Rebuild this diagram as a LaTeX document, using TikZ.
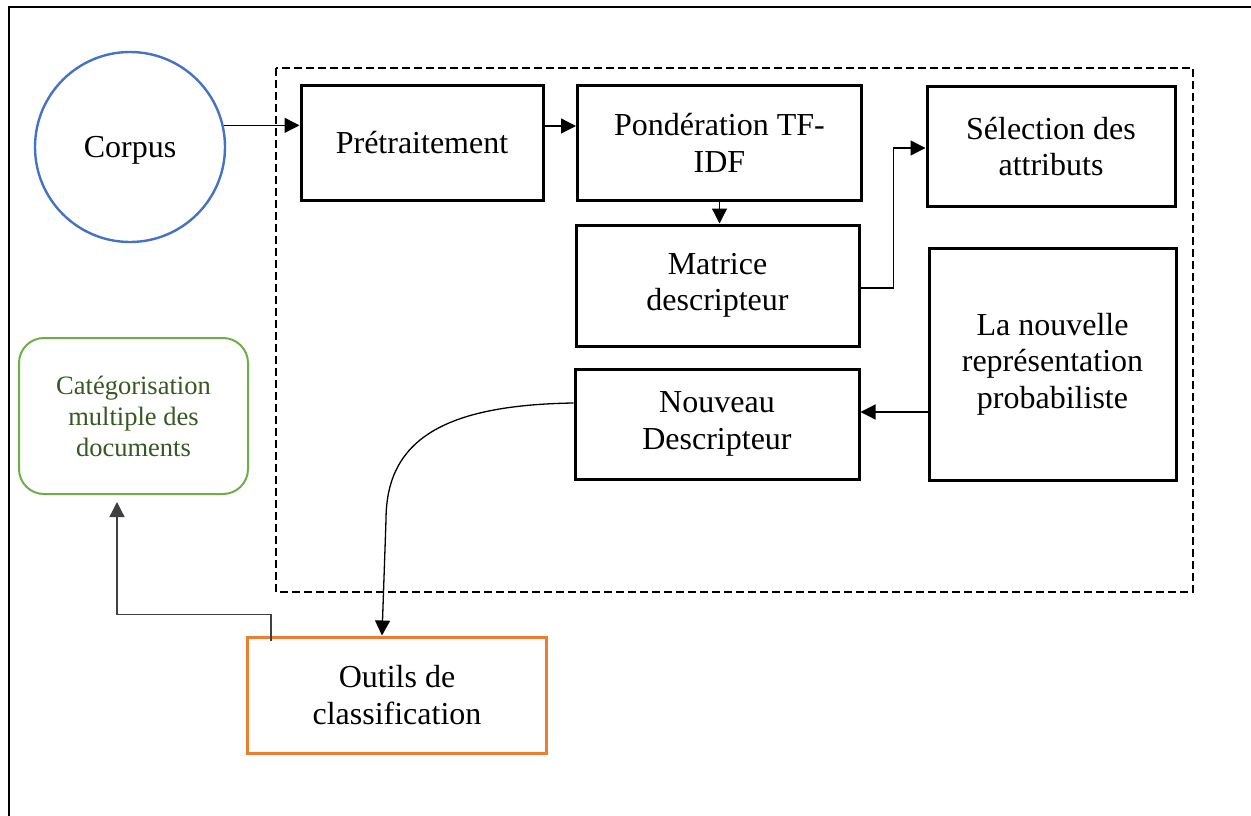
\documentclass[tikz,border=0pt]{standalone}
\usepackage{fontspec}
\setmainfont{Liberation Serif}
\usetikzlibrary{arrows.meta}
\definecolor{corpusblue}{HTML}{4472C4}
\definecolor{catgreen}{HTML}{70AD47}
\definecolor{catgreentext}{HTML}{385723}
\definecolor{toolorange}{HTML}{ED7D31}
\definecolor{linkgray}{HTML}{404040}

\begin{document}
\begin{tikzpicture}[x=1pt,y=-1pt,
  bigtext/.style={font=\fontsize{32}{36.5}\selectfont},
  stepbox/.style={draw, rectangle, line width=3pt, inner sep=0pt, align=center, bigtext},
  link/.style={line width=1.3pt, -{Triangle[length=15pt,width=15pt]}},
]
\useasboundingbox (0,0) rectangle (1251,816);

% outer frame (left and top edges)
\draw[line width=2.8pt] (9,816) -- (9,7) -- (1251,7);

% processing area
\draw[line width=2.3pt, dash pattern=on 8pt off 4pt] (276,68) rectangle (1193,592);

% nodes
\node[circle, draw=corpusblue, line width=2.4pt, minimum size=190pt, inner sep=0pt, text depth=0pt, bigtext] (corpus) at (130,147) {Corpus};
\node[stepbox, minimum width=242pt, minimum height=114pt] (pre) at (422,143) {Prétraitement};
\node[stepbox, minimum width=284pt, minimum height=114pt] (pond) at (719.5,143) {Pondération TF-\\IDF};
\node[stepbox, minimum width=248pt, minimum height=119pt] (sel) at (1051,146.5) {Sélection des\\attributs};
\node[stepbox, minimum width=283pt, minimum height=121pt] (mat) at (717.5,285.5) {Matrice\\descripteur};
\node[stepbox, minimum width=247pt, minimum height=232pt] (prob) at (1052.5,364) {La nouvelle\\représentation\\probabiliste};
\node[stepbox, minimum width=284pt, minimum height=110pt] (nouv) at (717,424) {Nouveau\\Descripteur};
\node[draw=catgreen, line width=2pt, rounded corners=25pt, minimum width=229pt, minimum height=156pt,
      inner sep=0pt, align=center, text=catgreentext, font=\fontsize{26.5}{31}\selectfont] (cat) at (133.5,416)
      {Catégorisation\\multiple des\\documents};
\node[stepbox, draw=toolorange, minimum width=299pt, minimum height=116pt] (outils) at (397,695) {Outils de\\classification};

% connectors
\draw[link] (corpus.13) -- (corpus.13 -| pre.west);
\draw[link] ([yshift=17pt]pre.east) -- ([yshift=17pt]pre.east -| pond.west);
\draw[link] (pond.south) -- (pond.south |- mat.north);
\draw[link] ([yshift=-2.5pt]mat.east) -- ++(33,0) |- ([yshift=-1.5pt]sel.west);
\draw[link] ([yshift=-48pt]prob.west) -- ([yshift=-48pt]prob.west -| nouv.east);
\coordinate (bend) at (386,520);
\draw[link] ([yshift=21pt]nouv.west) .. controls +(-130,2) and +(0,-80) .. (bend) -- ([xshift=-15pt]outils.north);
\draw[link, draw=linkgray] ([xshift=-126pt,yshift=-5pt]outils.north) -- ++(0,-26) -| ([xshift=-16.5pt,yshift=-7pt]cat.south);
\end{tikzpicture}
\end{document}
